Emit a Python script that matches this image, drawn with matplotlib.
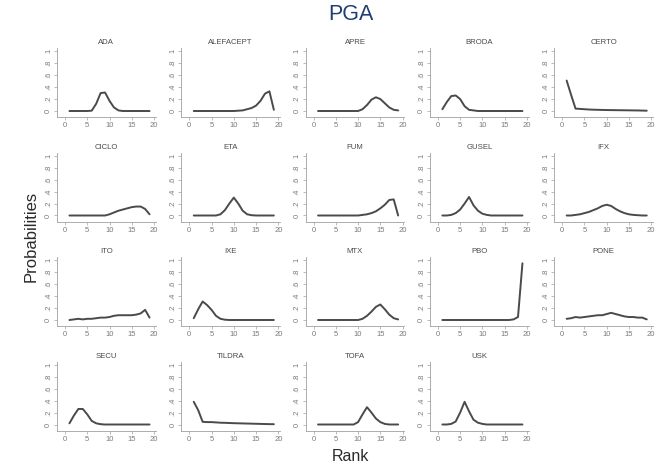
import matplotlib
matplotlib.use("Agg")
import matplotlib.pyplot as plt

plt.rcParams['font.family'] = ['Liberation Sans', 'DejaVu Sans']

# Rank-probability curves for each treatment (ranks 1..19)
ranks = list(range(1, 20))

ada = [0, 0, 0, 0, 0, 0.005, 0.12, 0.30, 0.31, 0.17, 0.06, 0.01, 0, 0, 0, 0, 0, 0, 0]
alefacept = [0, 0, 0, 0, 0, 0, 0, 0, 0, 0, 0.005, 0.01, 0.03, 0.05, 0.09, 0.17, 0.29, 0.33, 0.02]
apre = [0, 0, 0, 0, 0, 0, 0, 0, 0, 0, 0.03, 0.10, 0.19, 0.23, 0.20, 0.13, 0.06, 0.02, 0.01]
broda = [0.03, 0.15, 0.25, 0.26, 0.20, 0.08, 0.02, 0.01, 0, 0, 0, 0, 0, 0, 0, 0, 0, 0, 0]
certo = [0.51, 0.27, 0.04, 0.035, 0.03, 0.025, 0.022, 0.02, 0.018, 0.016, 0.015, 0.014,
         0.013, 0.012, 0.011, 0.01, 0.009, 0.007, 0.005]
ciclo = [0, 0, 0, 0, 0, 0, 0, 0, 0, 0.02, 0.05, 0.08, 0.10, 0.12, 0.14, 0.15, 0.15, 0.11, 0.02]
eta = [0, 0, 0, 0, 0, 0, 0.02, 0.09, 0.20, 0.30, 0.20, 0.08, 0.02, 0.005, 0, 0, 0, 0, 0]
fum = [0, 0, 0, 0, 0, 0, 0, 0, 0, 0, 0.01, 0.02, 0.04, 0.07, 0.12, 0.18, 0.26, 0.27, 0.0]
gusel = [0, 0, 0.01, 0.04, 0.10, 0.20, 0.31, 0.17, 0.08, 0.03, 0.01, 0, 0, 0, 0, 0, 0, 0, 0]
ifx = [0, 0, 0.01, 0.02, 0.04, 0.06, 0.09, 0.12, 0.16, 0.18, 0.16, 0.11, 0.07, 0.04, 0.02,
       0.01, 0.005, 0, 0]
ito = [0, 0.01, 0.02, 0.01, 0.02, 0.02, 0.03, 0.04, 0.04, 0.05, 0.07, 0.08, 0.08, 0.08,
       0.08, 0.09, 0.11, 0.17, 0.04]
ixe = [0.03, 0.18, 0.31, 0.25, 0.17, 0.07, 0.02, 0.005, 0, 0, 0, 0, 0, 0, 0, 0, 0, 0, 0]
mtx = [0, 0, 0, 0, 0, 0, 0, 0, 0, 0, 0.02, 0.07, 0.14, 0.22, 0.26, 0.18, 0.09, 0.03, 0.01]
pbo = [0, 0, 0, 0, 0, 0, 0, 0, 0, 0, 0, 0, 0, 0, 0, 0, 0.01, 0.05, 0.95]
pone = [0.02, 0.03, 0.05, 0.04, 0.05, 0.06, 0.07, 0.08, 0.08, 0.10, 0.12, 0.10, 0.08, 0.06,
        0.05, 0.05, 0.04, 0.04, 0.01]
secu = [0.02, 0.15, 0.26, 0.26, 0.17, 0.06, 0.02, 0.005, 0, 0, 0, 0, 0, 0, 0, 0, 0, 0, 0]
tildra = [0.38, 0.24, 0.045, 0.04, 0.04, 0.035, 0.03, 0.028, 0.025, 0.022, 0.02, 0.018,
          0.016, 0.014, 0.012, 0.01, 0.008, 0.006, 0.005]
tofa = [0, 0, 0, 0, 0, 0, 0, 0, 0, 0.04, 0.17, 0.29, 0.20, 0.10, 0.04, 0.01, 0, 0, 0]
usk = [0, 0, 0.01, 0.05, 0.20, 0.38, 0.22, 0.08, 0.03, 0.01, 0, 0, 0, 0, 0, 0, 0, 0, 0]

names = ["ADA", "ALEFACEPT", "APRE", "BRODA", "CERTO",
         "CICLO", "ETA", "FUM", "GUSEL", "IFX",
         "ITO", "IXE", "MTX", "PBO", "PONE",
         "SECU", "TILDRA", "TOFA", "USK"]
series = [ada, alefacept, apre, broda, certo,
          ciclo, eta, fum, gusel, ifx,
          ito, ixe, mtx, pbo, pone,
          secu, tildra, tofa, usk]

x_ticks = [0, 5, 10, 15, 20]
y_ticks = [0, 0.2, 0.4, 0.6, 0.8, 1.0]
y_tick_labels = ["0", ".2", ".4", ".6", ".8", "1"]

W, H = 672, 469
fig = plt.figure(figsize=(W / 100, H / 100), dpi=100)
fig.patch.set_facecolor("white")

# grid geometry in pixels
xmin, xmax = -1.8, 20.4
ymin, ymax = -0.105, 1.05
sx, sy = 4.45, 59.7
col_step, row_step = 124.3, 104.5
x_origin, y_origin = 65.0, 111.0

axis_col = "#a0a0a0"
label_col = "#7a7a7a"

for i, (name, vals) in enumerate(zip(names, series)):
    r, c = divmod(i, 5)
    x0 = x_origin + c * col_step
    y0 = y_origin + r * row_step
    left = x0 + xmin * sx
    right = x0 + xmax * sx
    bottom = y0 - ymin * sy
    top = y0 - ymax * sy
    ax = fig.add_axes([left / W, 1 - bottom / H, (right - left) / W, (bottom - top) / H])
    ax.plot(ranks, vals, color="#4a4a4a", lw=1.4, solid_joinstyle="round",
            solid_capstyle="round")
    ax.set_xlim(xmin, xmax)
    ax.set_ylim(ymin, ymax)
    for s in ("top", "right"):
        ax.spines[s].set_visible(False)
    for s in ("left", "bottom"):
        ax.spines[s].set_color(axis_col)
        ax.spines[s].set_linewidth(0.6)
    ax.set_xticks(x_ticks)
    ax.set_yticks(y_ticks)
    ax.set_yticklabels(y_tick_labels, rotation=90, va="center")
    ax.tick_params(length=2, width=0.5, color=axis_col, labelsize=5.5,
                   labelcolor=label_col, pad=1.5)
    ax.set_title(name, fontsize=5.6, color="#4a4a4a", pad=3)

fig.text(351 / W, 1 - 14 / H, "PGA", fontsize=15.5, color="#1f3f73",
         ha="center", va="center")
fig.text(31 / W, 1 - 236 / H, "Probabilities", fontsize=12, color="#2a2a2a",
         rotation=90, ha="center", va="center")
fig.text(350 / W, 1 - 456 / H, "Rank", fontsize=11.5, color="#2a2a2a",
         ha="center", va="center")

fig.savefig("out.png", dpi=100)
